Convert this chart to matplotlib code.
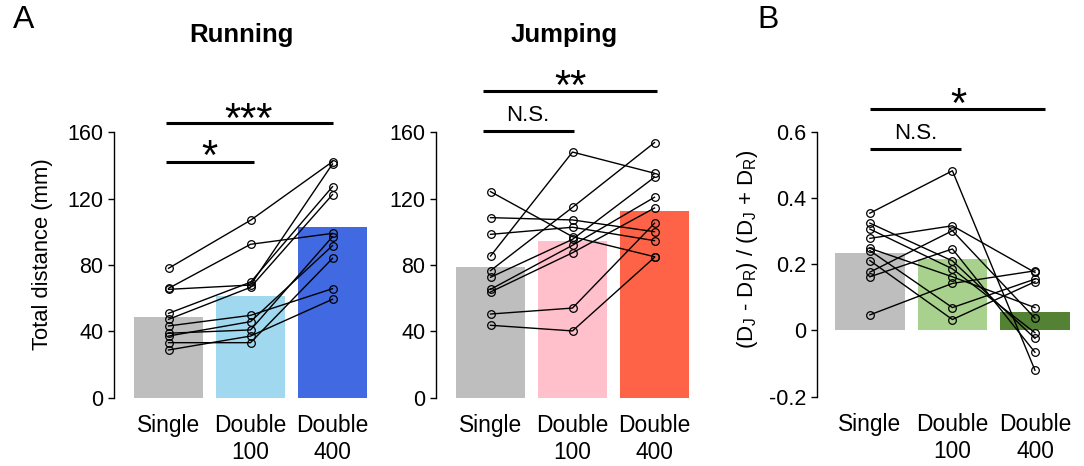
import matplotlib
matplotlib.use("Agg")
import matplotlib.pyplot as plt
import numpy as np

plt.rcParams['font.family'] = ['Liberation Sans', 'DejaVu Sans']
plt.rcParams['mathtext.fontset'] = 'custom'
plt.rcParams['mathtext.rm'] = 'Liberation Sans'

conditions = ["Single", "Double\n100", "Double\n400"]

# running distances (mm), one entry per subject: single, double100, double400
run_single = [78.0, 65.9, 65.3, 50.8, 47.2, 43.2, 38.8, 37.1, 33.1, 28.7]
run_d100 = [107.0, 92.5, 67.9, 69.6, 66.5, 49.6, 40.8, 45.8, 33.1, 37.1]
run_d400 = [142.4, 99.1, 141.0, 127.3, 122.5, 65.7, 97.1, 91.7, 84.0, 59.3]
run_bars = [48.6, 61.2, 103.0]

# jumping distances (mm)
jump_single = [124.3, 108.6, 98.5, 85.4, 76.6, 72.6, 65.3, 63.7, 50.4, 43.6]
jump_d100 = [97.1, 107.2, 102.8, 148.2, 114.8, 95.5, 91.9, 87.4, 54.0, 40.2]
jump_d400 = [85.0, 100.1, 94.7, 135.4, 153.9, 133.0, 120.9, 114.4, 105.2, 84.6]
jump_bars = [78.8, 94.5, 112.6]

# index (DJ - DR) / (DJ + DR)
idx_single = [0.354, 0.324, 0.306, 0.278, 0.248, 0.241, 0.211, 0.176, 0.162, 0.047]
idx_d100 = [0.482, 0.210, 0.186, 0.316, 0.162, 0.069, 0.033, 0.301, 0.246, 0.142]
idx_d400 = [-0.120, -0.024, -0.007, 0.175, 0.069, 0.155, 0.147, 0.037, -0.066, 0.180]
idx_bars = [0.234, 0.216, 0.056]

run_colors = ["#BEBEBE", "#A0D8EF", "#4169E1"]
jump_colors = ["#BEBEBE", "#FFC0CB", "#FF6347"]
idx_colors = ["#BEBEBE", "#A9D18E", "#548235"]

W, H = 1084, 466
fig = plt.figure(figsize=(W / 100, H / 100), dpi=100)


def make_axes(left_px, bottom_px, top_px, xleft):
    ax = fig.add_axes([left_px / W, 1 - bottom_px / H, (369.4 - 114) / W,
                       (bottom_px - top_px) / H])
    ax.set_xlim(xleft, 2.45)
    return ax


def draw_panel(ax, bars, colors, single, d100, d400):
    x = np.arange(3)
    ax.bar(x, bars, width=0.84, color=colors, zorder=1)
    for s, a, b in zip(single, d100, d400):
        ax.plot(x, [s, a, b], color="black", lw=1, marker="o", ms=5.5,
                mfc="none", mec="black", mew=0.9, zorder=3)
    for side in ["top", "right", "bottom"]:
        ax.spines[side].set_visible(False)
    ax.spines["left"].set_linewidth(1)
    ax.set_xticks(x)
    ax.set_xticklabels(conditions, fontsize=16.4, linespacing=1.22)
    ax.tick_params(axis="x", length=0, pad=12)
    ax.tick_params(axis="y", length=4, width=1, labelsize=15.5, direction="out")


def sig_line(ax, x0, x1, y):
    ax.plot([x0, x1], [y, y], color="black", lw=2.2, clip_on=False,
            solid_capstyle="butt")


def sig_text(ax, x, y, label, fs, rise):
    # y is the centre of the glyph ink; rise is that centre above the baseline, in em
    ax.annotate(label, (x, y), xytext=(0, -rise * fs), textcoords="offset points",
                ha="center", va="baseline", fontsize=fs, annotation_clip=False)


# Running
ax1 = make_axes(114, 397.5, 132.5, -0.665)
draw_panel(ax1, run_bars, run_colors, run_single, run_d100, run_d400)
ax1.set_ylim(0, 160)
ax1.set_yticks([0, 40, 80, 120, 160])
ax1.set_ylabel("Total distance (mm)", fontsize=15.8)
ax1.yaxis.set_label_coords(-0.239, 0.54)
sig_line(ax1, -0.03, 1.04, 142.4)
sig_text(ax1, 0.5, 152.5, "*", 30, 0.58)
sig_line(ax1, -0.03, 2.0, 166)
sig_text(ax1, 0.98, 174.8, "***", 30, 0.58)
ax1.text(0.5, 1.0 + 97 / 265, "Running", transform=ax1.transAxes,
         ha="center", va="center", fontsize=18.5, fontweight="bold")

# Jumping
ax2 = make_axes(436, 397.5, 132.5, -0.665)
draw_panel(ax2, jump_bars, jump_colors, jump_single, jump_d100, jump_d400)
ax2.set_ylim(0, 160)
ax2.set_yticks([0, 40, 80, 120, 160])
sig_line(ax2, -0.09, 1.02, 160.9)
sig_text(ax2, 0.46, 171.5, "N.S.", 16, 0.36)
sig_line(ax2, -0.09, 2.03, 185)
sig_text(ax2, 0.97, 194.7, "**", 30, 0.58)
ax2.text(0.5, 1.0 + 97 / 265, "Jumping", transform=ax2.transAxes,
         ha="center", va="center", fontsize=18.5, fontweight="bold")

# Index panel
ax3 = make_axes(816.7, 396.7, 131.7, -0.644)
draw_panel(ax3, idx_bars, idx_colors, idx_single, idx_d100, idx_d400)
ax3.set_ylim(-0.2, 0.6)
ax3.set_yticks([-0.2, 0, 0.2, 0.4, 0.6])
ax3.set_yticklabels(["-0.2", "0", "0.2", "0.4", "0.6"])
ax3.set_ylabel(r"(D$_\mathregular{J}$ - D$_\mathregular{R}$) / "
               r"(D$_\mathregular{J}$ + D$_\mathregular{R}$)", fontsize=16)
ax3.yaxis.set_label_coords(-0.222, 0.557)
sig_line(ax3, 0.0, 1.1, 0.547)
sig_text(ax3, 0.56, 0.602, "N.S.", 16, 0.36)
sig_line(ax3, 0.0, 2.12, 0.668)
sig_text(ax3, 1.07, 0.717, "*", 30, 0.58)

fig.text(24 / W, 1 - 20 / H, "A", fontsize=23, ha="center", va="center")
fig.text(768 / W, 1 - 20 / H, "B", fontsize=23, ha="center", va="center")

fig.savefig("out.png", dpi=100)
